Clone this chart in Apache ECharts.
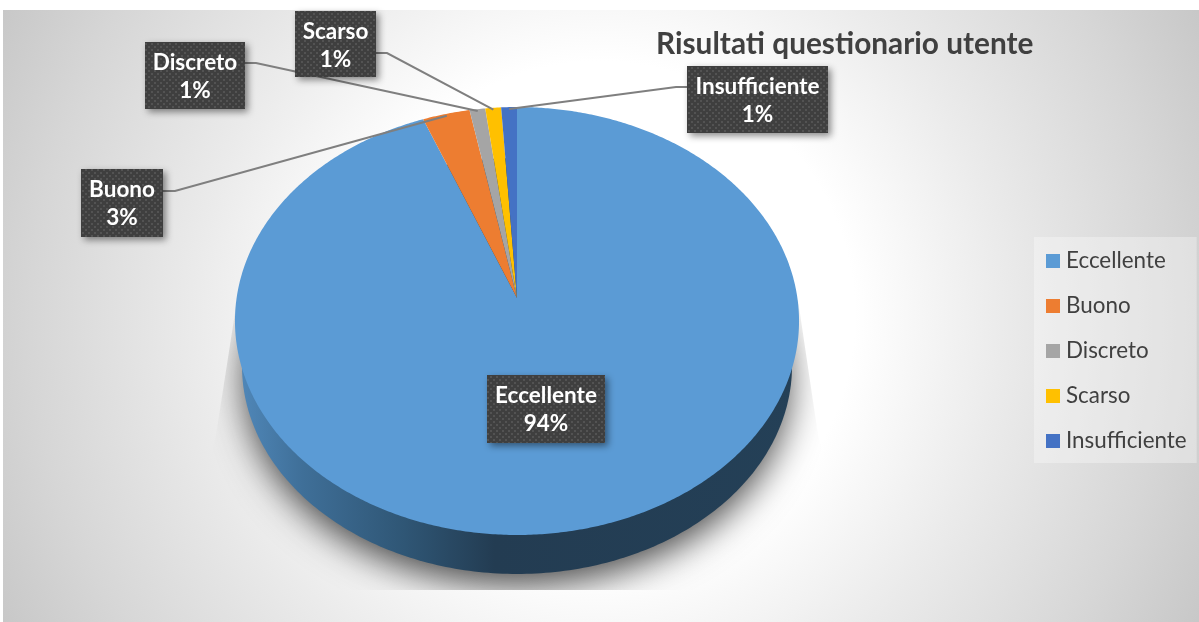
<!DOCTYPE html>
<html>
<head>
<meta charset="utf-8">
<title>Risultati questionario utente</title>
<script src="https://cdn.jsdelivr.net/npm/echarts@6/dist/echarts.min.js"></script>
<style>
  html, body { margin: 0; padding: 0; background: #fff; }
  #chart { width: 1199px; height: 622px; }
</style>
</head>
<body>
<div id="chart"></div>
<script>
// --- dati ---
const categories = ['Eccellente', 'Buono', 'Discreto', 'Scarso', 'Insufficiente'];
const values = [94, 3, 1, 1, 1];
const colors = ['#5B9BD5', '#ED7D31', '#A5A5A5', '#FFC000', '#4472C4'];
const titleText = 'Risultati questionario utente';

// box delle etichette [x0, y0, x1, y1] e gomito della linea guida
const labelBoxes = [
  [487, 375, 605, 443],
  [81, 169, 163, 237],
  [145, 42, 245, 109],
  [295, 11, 376, 77],
  [687, 66, 828, 133]
];
const leaderElbows = [null, [175, 191], [256, 63], [387, 53], [676, 87]];

// --- proiezione prospettica della torta ---
const APEX = { x: 517, y: 298 };
const PERSP = { a: 280.4, b: 211.5, k: 0.1075 };
const LOWER = { cx: 517, cy: 366, rx: 275, ry: 208 };
const total = values.reduce((s, v) => s + v, 0);

const project = (deg, scale = 1) => {
  const t = deg * Math.PI / 180;
  const w = 1 + PERSP.k * Math.cos(t);
  return [
    APEX.x + scale * PERSP.a * Math.sin(t) / w,
    APEX.y - scale * PERSP.b * Math.cos(t) / w
  ];
};

const startDeg = i => values.slice(0, i).reduce((s, v) => s + v, 0) / total * 360;

const ellipsePoints = (cx, cy, rx, ry) => {
  const pts = [];
  for (let d = 0; d < 360; d += 1) {
    const t = d * Math.PI / 180;
    pts.push([cx + rx * Math.cos(t), cy + ry * Math.sin(t)]);
  }
  return pts;
};

// trama a puntini delle etichette
const makeDots = () => {
  const c = document.createElement('canvas');
  c.width = 6;
  c.height = 6;
  const g = c.getContext('2d');
  g.fillStyle = '#3f3f3f';
  g.fillRect(0, 0, 6, 6);
  g.fillStyle = '#535353';
  g.fillRect(1, 1, 2, 2);
  g.fillRect(4, 4, 2, 2);
  return c;
};
const dots = makeDots();

// --- ombra e fianco del disco ---
const baseSeries = {
  type: 'custom',
  name: 'base',
  coordinateSystem: 'none',
  silent: true,
  z: 1,
  data: [0],
  renderItem: () => ({
    type: 'group',
    children: [
      {
        // l'ellisse resta sotto il fianco: si vede solo la sua ombra sfumata
        type: 'polygon',
        shape: { points: ellipsePoints(517, 366, 272, 205) },
        style: { fill: '#244057', shadowBlur: 36, shadowOffsetY: 14, shadowColor: 'rgba(0,0,0,0.72)' },
        clipPath: {
          type: 'polygon',
          shape: { points: [[237, 300], [798, 300], [818, 435], [860, 590], [175, 590], [216, 435]] }
        }
      },
      {
        type: 'polygon',
        shape: { points: ellipsePoints(LOWER.cx, LOWER.cy, LOWER.rx, LOWER.ry) },
        style: {
          fill: new echarts.graphic.LinearGradient(235, 0, 800, 0, [
            { offset: 0, color: '#5189bb' },
            { offset: 0.12, color: '#3f6f98' },
            { offset: 0.3, color: '#2f5675' },
            { offset: 0.46, color: '#233c52' },
            { offset: 1, color: '#244057' }
          ], true)
        }
      }
    ]
  })
};

// --- una serie per fetta, così la legenda è quella della libreria ---
const sliceSeries = categories.map((name, i) => ({
  type: 'custom',
  name,
  coordinateSystem: 'none',
  silent: true,
  z: 2,
  itemStyle: { color: colors[i] },
  data: [values[i]],
  renderItem: (params, api) => {
    const from = startDeg(i);
    const sweep = api.value(0) / total * 360;
    const pts = [[APEX.x, APEX.y]];
    const steps = Math.max(4, Math.ceil(sweep * 2));
    for (let s = 0; s <= steps; s++) {
      pts.push(project(from + sweep * s / steps));
    }
    return { type: 'polygon', shape: { points: pts }, style: { fill: colors[i] } };
  }
}));

// --- linee guida ed etichette ---
const labelSeries = {
  type: 'custom',
  name: 'etichette',
  coordinateSystem: 'none',
  silent: true,
  z: 5,
  data: values,
  renderItem: (params, api) => {
    const i = params.dataIndex;
    const box = labelBoxes[i];
    const pct = Math.round(api.value(0) / total * 100) + '%';
    const midX = (box[0] + box[2]) / 2;
    const children = [];
    if (leaderElbows[i]) {
      const mid = startDeg(i) + api.value(0) / total * 180;
      const start = leaderElbows[i][0] < midX ? box[0] : box[2];
      children.push({
        type: 'polyline',
        shape: { points: [[start, leaderElbows[i][1]], leaderElbows[i], project(mid, 0.99)] },
        style: { stroke: '#7f7f7f', lineWidth: 2, fill: null }
      });
    }
    children.push({
      type: 'rect',
      shape: { x: box[0], y: box[1], width: box[2] - box[0], height: box[3] - box[1] },
      style: {
        fill: { image: dots, repeat: 'repeat' },
        shadowBlur: 7,
        shadowOffsetX: 3,
        shadowOffsetY: 3,
        shadowColor: 'rgba(0,0,0,0.45)'
      }
    });
    const font = 'bold 22.5px Lato, sans-serif';
    children.push({
      type: 'text',
      style: { text: categories[i], x: midX, y: box[1] + 21, font, fill: '#fff', align: 'center', verticalAlign: 'middle' }
    });
    children.push({
      type: 'text',
      style: { text: pct, x: midX, y: box[1] + 49, font, fill: '#fff', align: 'center', verticalAlign: 'middle' }
    });
    return { type: 'group', children };
  }
};

const chart = echarts.init(document.getElementById('chart'));
chart.setOption({
  animation: false,
  title: {
    text: titleText,
    left: 656,
    top: 29,
    padding: 0,
    textStyle: { color: '#404040', fontFamily: 'Lato, sans-serif', fontWeight: 'bold', fontSize: 29.8 }
  },
  legend: {
    data: categories,
    orient: 'vertical',
    left: 1034,
    top: 237,
    width: 164,
    padding: [11, 10, 9, 12],
    icon: 'rect',
    itemWidth: 14,
    itemHeight: 14,
    itemGap: 19,
    backgroundColor: 'rgba(255,255,255,0.32)',
    selectedMode: false,
    textStyle: { color: '#404040', fontFamily: 'Lato, sans-serif', fontSize: 22.4, padding: [0, 0, 0, 1], lineHeight: 26 }
  },
  graphic: [{
    type: 'rect',
    silent: true,
    z: -10,
    shape: { x: 3, y: 10, width: 1196, height: 612 },
    style: {
      fill: new echarts.graphic.RadialGradient(600, 316, 670, [
        { offset: 0, color: '#ffffff' },
        { offset: 0.38, color: '#ffffff' },
        { offset: 0.6, color: '#ebebeb' },
        { offset: 0.85, color: '#d6d6d6' },
        { offset: 1, color: '#c8c8c8' }
      ], true)
    }
  }],
  series: [baseSeries, ...sliceSeries, labelSeries]
});
</script>
</body>
</html>
